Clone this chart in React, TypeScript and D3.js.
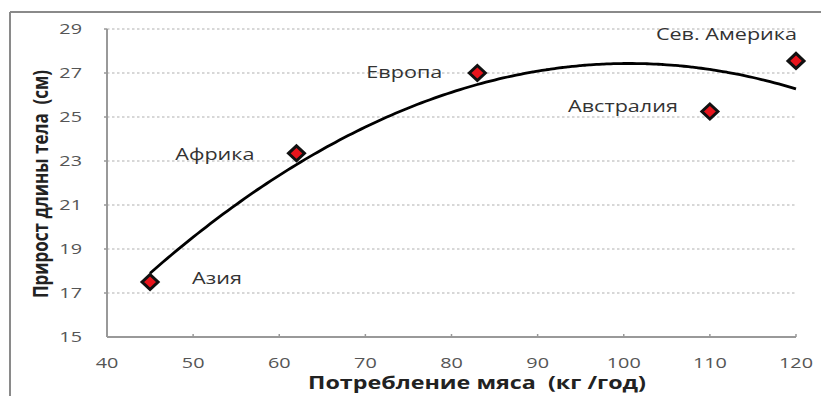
import React from "react";
import * as d3 from "d3";

// Meat consumption (kg/year) vs. body length gain (cm) by region
const regions = ["Азия", "Африка", "Европа", "Австралия", "Сев. Америка"];
const meat = [45, 62, 83, 110, 120];
const growth = [17.5, 23.35, 27.0, 25.25, 27.55];
const xTicks = [40, 50, 60, 70, 80, 90, 100, 110, 120];
const yTicks = [15, 17, 19, 21, 23, 25, 27, 29];

// Label placement relative to each marker (dx, dy, anchor)
const labelPos: [number, number, string][] = [
  [42, -4, "start"],
  [-42, 1, "end"],
  [-35, -1, "end"],
  [-32, -5, "end"],
  [1, -27, "end"],
];

// Least-squares quadratic trend through the points
function quadFit(xs: number[], ys: number[]) {
  const n = xs.length;
  let s1 = 0, s2 = 0, s3 = 0, s4 = 0, t0 = 0, t1 = 0, t2 = 0;
  for (let i = 0; i < n; i++) {
    const x = xs[i], y = ys[i];
    s1 += x; s2 += x * x; s3 += x ** 3; s4 += x ** 4;
    t0 += y; t1 += x * y; t2 += x * x * y;
  }
  const A = [
    [n, s1, s2, t0],
    [s1, s2, s3, t1],
    [s2, s3, s4, t2],
  ];
  for (let i = 0; i < 3; i++) {
    for (let j = i + 1; j < 3; j++) {
      const f = A[j][i] / A[i][i];
      for (let k = i; k < 4; k++) A[j][k] -= f * A[i][k];
    }
  }
  const c = [0, 0, 0];
  for (let i = 2; i >= 0; i--) {
    let s = A[i][3];
    for (let k = i + 1; k < 3; k++) s -= A[i][k] * c[k];
    c[i] = s / A[i][i];
  }
  return (x: number) => c[0] + c[1] * x + c[2] * x * x;
}

// Horizontally widened text anchored at (x, y)
function WideText(props: {
  x: number;
  y: number;
  sx: number;
  size: number;
  anchor: string;
  fill: string;
  weight?: string;
  children: React.ReactNode;
}) {
  const { x, y, sx, size, anchor, fill, weight, children } = props;
  return (
    <g transform={`translate(${x},${y}) scale(${sx},1)`}>
      <text
        dy="0.35em"
        textAnchor={anchor}
        fontSize={size}
        fontWeight={weight || "normal"}
        fill={fill}
        style={{ whiteSpace: "pre" }}
      >
        {children}
      </text>
    </g>
  );
}

export default function App() {
  const W = 821, H = 396;
  const x = d3.scaleLinear().domain([40, 120]).range([107, 796]);
  const y = d3.scaleLinear().domain([15, 29]).range([337, 29]);
  const f = quadFit(meat, growth);
  const curvePts = d3.range(45, 120.01, 0.5).map((v) => [v, f(v)] as [number, number]);
  const line = d3
    .line<[number, number]>()
    .x((d) => x(d[0]))
    .y((d) => y(d[1]))
    .curve(d3.curveMonotoneX);
  const font = "'Open Sans', 'DejaVu Sans', sans-serif";
  const rx = 8, ry = 7.5;

  return (
    <svg
      width={W}
      height={H}
      style={{ position: "absolute", left: 0, top: 0, background: "#fff" }}
      fontFamily={font}
    >
      {/* outer frame */}
      <line x1={10} y1={12} x2={W} y2={12} stroke="#8a8a8a" strokeWidth={2} />
      <line x1={10} y1={12} x2={10} y2={H} stroke="#8a8a8a" strokeWidth={2} />

      {/* gridlines */}
      {yTicks.slice(1).map((t) => (
        <line
          key={t}
          x1={x(40)}
          x2={x(120)}
          y1={y(t)}
          y2={y(t)}
          stroke="#b0b0b0"
          strokeWidth={1.2}
          strokeDasharray="2.5 2.5"
        />
      ))}

      {/* axes */}
      <line x1={x(40)} y1={y(29)} x2={x(40)} y2={y(15)} stroke="#999" strokeWidth={2} />
      <line x1={x(40)} y1={y(15)} x2={x(120)} y2={y(15)} stroke="#999" strokeWidth={2} />
      {xTicks.slice(1).map((t) => (
        <line key={t} x1={x(t)} x2={x(t)} y1={y(15)} y2={y(15) - 3} stroke="#999" strokeWidth={1.5} />
      ))}
      {yTicks.slice(1).map((t) => (
        <line key={t} x1={x(40) - 3} x2={x(40)} y1={y(t)} y2={y(t)} stroke="#999" strokeWidth={1.5} />
      ))}

      {/* tick labels */}
      {yTicks.map((t) => (
        <WideText key={t} x={82} y={y(t)} sx={1.32} size={15} anchor="end" fill="#555">
          {t}
        </WideText>
      ))}
      {xTicks.map((t) => (
        <WideText key={t} x={x(t)} y={363} sx={1.32} size={15} anchor="middle" fill="#555">
          {t}
        </WideText>
      ))}

      {/* axis titles */}
      <WideText x={477} y={383} sx={1.37} size={17} anchor="middle" fill="#222" weight="bold">
        Потребление мяса  (кг /год)
      </WideText>
      <text
        transform={`translate(40, 184) rotate(-90) scale(1,1.3)`}
        dy="0.35em"
        textAnchor="middle"
        fontSize={17}
        fontWeight="bold"
        fill="#222"
        style={{ whiteSpace: "pre" }}
      >
        Прирост длины тела  (см)
      </text>

      {/* trend curve */}
      <path d={line(curvePts) || ""} fill="none" stroke="#000" strokeWidth={2.8} />

      {/* markers and labels */}
      {meat.map((m, i) => {
        const cx = x(m), cy = y(growth[i]);
        const [dx, dy, anchor] = labelPos[i];
        return (
          <g key={regions[i]}>
            <path
              d={`M${cx},${cy - ry}L${cx + rx},${cy}L${cx},${cy + ry}L${cx - rx},${cy}Z`}
              fill="#e8141c"
              stroke="#111"
              strokeWidth={3}
            />
            <WideText x={cx + dx} y={cy + dy} sx={1.35} size={16} anchor={anchor} fill="#333">
              {regions[i]}
            </WideText>
          </g>
        );
      })}
    </svg>
  );
}
